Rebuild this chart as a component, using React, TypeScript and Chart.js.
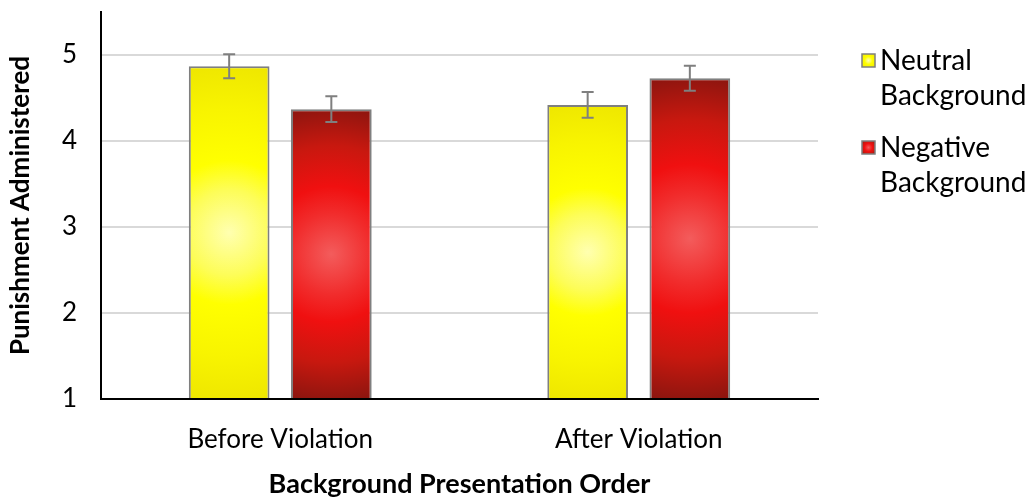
import React, { useEffect, useRef } from "react";
import { Chart, registerables } from "chart.js";

Chart.register(...registerables);

// ---- data ----
const categories = ["Before Violation", "After Violation"];
const seriesNames = ["Neutral Background", "Negative Background"];
const legendLines = [
  ["Neutral", "Background"],
  ["Negative", "Background"],
];
const neutralValues = [4.87, 4.42];
const negativeValues = [4.37, 4.73];
const neutralErrors = [0.14, 0.15];
const negativeErrors = [0.15, 0.145];
const yTickValues = [1, 2, 3, 4, 5];
const yTitle = "Punishment Administered";
const xTitle = "Background Presentation Order";

// ---- style ----
const FONT = "Lato";
const CAT_PCT = 0.57;
const BAR_PCT = 0.79;
const yellowStops: [number, string][] = [
  [0, "#ffffb0"],
  [0.25, "#fdfd58"],
  [0.42, "#ffff00"],
  [0.72, "#f8f400"],
  [1, "#eee600"],
];
const redStops: [number, string][] = [
  [0, "#f35c5c"],
  [0.27, "#f12c2c"],
  [0.45, "#f01010"],
  [0.72, "#c8180f"],
  [1, "#8a150f"],
];
const seriesStops = [yellowStops, redStops];
const seriesSolid = ["#ffff00", "#f01010"];
const errorsBySeries = [neutralErrors, negativeErrors];

function radial(ctx: CanvasRenderingContext2D, cx: number, cy: number, r: number, stops: [number, string][]) {
  const g = ctx.createRadialGradient(cx, cy, 0, cx, cy, r);
  stops.forEach(([o, c]) => g.addColorStop(o, c));
  return g;
}

const makeBg = (si: number) => (c: any) => {
  const solid = seriesSolid[si];
  if (c.type !== "data") return solid;
  const chart = c.chart;
  const xs = chart.scales.x;
  const ys = chart.scales.y;
  if (!xs || !ys) return solid;
  const catW = (xs.right - xs.left) / categories.length;
  const slot = (catW * CAT_PCT) / 2;
  const cx = xs.getPixelForValue(c.dataIndex) + (c.datasetIndex - 0.5) * slot;
  const top = ys.getPixelForValue(c.raw as number);
  const base = ys.getPixelForValue(1);
  const hw = (slot * BAR_PCT) / 2;
  const hh = (base - top) / 2;
  const cy = (top + base) / 2;
  const r = Math.sqrt(hw * hw + hh * hh);
  if (!isFinite(cx) || !isFinite(cy) || !isFinite(r) || r <= 0) return solid;
  return radial(chart.ctx, cx, cy, r, seriesStops[si]);
};

const errorBarPlugin = {
  id: "errorBars",
  afterDatasetsDraw(chart: any) {
    const ctx = chart.ctx;
    const ys = chart.scales.y;
    ctx.save();
    ctx.strokeStyle = "#7f7f7f";
    ctx.lineWidth = 2;
    chart.data.datasets.forEach((ds: any, di: number) => {
      const meta = chart.getDatasetMeta(di);
      meta.data.forEach((el: any, i: number) => {
        const v = ds.data[i];
        const e = errorsBySeries[di][i];
        const yTop = ys.getPixelForValue(v + e);
        const yBot = ys.getPixelForValue(v - e);
        const x = el.x;
        ctx.beginPath();
        ctx.moveTo(x, yTop);
        ctx.lineTo(x, yBot);
        ctx.moveTo(x - 6, yTop);
        ctx.lineTo(x + 6, yTop);
        ctx.moveTo(x - 6, yBot);
        ctx.lineTo(x + 6, yBot);
        ctx.stroke();
      });
    });
    ctx.restore();
  },
};

const sideLegendPlugin = {
  id: "sideLegend",
  afterDraw(chart: any) {
    const ctx = chart.ctx;
    const x0 = chart.chartArea.right + 44;
    const firstTop = 54;
    const rowGap = 87;
    const box = 13;
    const lineGap = 35;
    ctx.save();
    legendLines.forEach((lines, si) => {
      const top = firstTop + si * rowGap;
      const cx = x0 + box / 2;
      const cy = top + box / 2;
      ctx.fillStyle = radial(ctx, cx, cy, box * 0.7, seriesStops[si]);
      ctx.fillRect(x0, top, box, box);
      ctx.strokeStyle = "#7f7f7f";
      ctx.lineWidth = 1.5;
      ctx.strokeRect(x0, top, box, box);
      ctx.fillStyle = "#000";
      ctx.font = `28px ${FONT}`;
      ctx.textBaseline = "middle";
      ctx.textAlign = "left";
      lines.forEach((t, li) => {
        ctx.fillText(t, x0 + 18, cy + li * lineGap);
      });
    });
    ctx.restore();
  },
};

export default function App() {
  const ref = useRef<HTMLCanvasElement>(null);
  useEffect(() => {
    document.body.style.margin = "0";
    Chart.defaults.font.family = FONT;
    const chart = new Chart(ref.current!, {
      type: "bar",
      data: {
        labels: categories,
        datasets: [
          {
            label: seriesNames[0],
            data: neutralValues,
            backgroundColor: makeBg(0),
            borderColor: "#7f7f7f",
            borderWidth: 2,
            base: 1,
            categoryPercentage: CAT_PCT,
            barPercentage: BAR_PCT,
          } as any,
          {
            label: seriesNames[1],
            data: negativeValues,
            backgroundColor: makeBg(1),
            borderColor: "#7f7f7f",
            borderWidth: 2,
            base: 1,
            categoryPercentage: CAT_PCT,
            barPercentage: BAR_PCT,
          } as any,
        ],
      },
      options: {
        animation: false,
        responsive: true,
        maintainAspectRatio: false,
        layout: { padding: { top: 12, right: 212, bottom: 0, left: 0 } },
        plugins: { legend: { display: false }, tooltip: { enabled: false } },
        scales: {
          x: {
            grid: { display: false },
            border: { display: true, color: "#000", width: 2 },
            ticks: { color: "#000", font: { size: 26 }, padding: 17 },
            title: {
              display: true,
              text: xTitle,
              color: "#000",
              font: { size: 27, weight: "bold" },
              padding: { top: 0, bottom: 3 },
            },
            afterFit: (s: any) => {
              s.height = 104;
              s.paddingLeft = 0;
              s.paddingRight = 0;
            },
          },
          y: {
            min: 1,
            max: 5.5,
            grid: { color: "#d9d9d9", lineWidth: 2, drawTicks: false },
            border: { display: true, color: "#000", width: 2 },
            ticks: { color: "#000", font: { size: 26 }, padding: 24, stepSize: 1 },
            afterBuildTicks: (s: any) => {
              s.ticks = yTickValues.map((v) => ({ value: v }));
            },
            title: {
              display: true,
              text: yTitle,
              color: "#000",
              font: { size: 26, weight: "bold" },
              padding: { top: 5, bottom: 0 },
            },
            afterFit: (s: any) => {
              s.width = 101;
              s.paddingTop = 0;
              s.paddingBottom = 0;
            },
          },
        },
      } as any,
      plugins: [errorBarPlugin, sideLegendPlugin],
    });
    return () => chart.destroy();
  }, []);
  return (
    <div style={{ width: 1030, height: 503, position: "relative" }}>
      <canvas ref={ref} />
    </div>
  );
}
